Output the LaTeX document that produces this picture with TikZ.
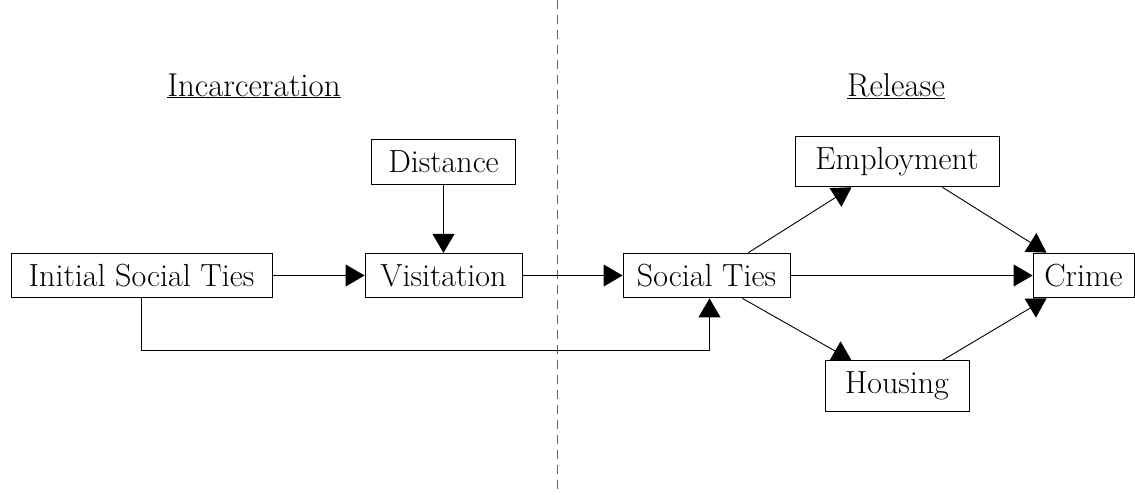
\documentclass[tikz,border=0pt]{standalone}
\usetikzlibrary{arrows.meta}
\begin{document}
\begin{tikzpicture}[x=1pt,y=-1pt,
  box/.style={draw,line width=0.9pt,font=\fontsize{32}{38}\selectfont,inner xsep=8pt,inner ysep=11pt,align=center},
  lbl/.style={font=\fontsize{33}{40}\selectfont,anchor=base},
  arr/.style={line width=0.9pt,-{Triangle[length=19pt,width=22pt]}},
  divider/.style={gray!80!black,line width=0.9pt,dash pattern=on 9pt off 6pt}]
\useasboundingbox (0,0) rectangle (1135,495);
\draw[divider] (557,0) coordinate (dtop) -- (557,495) coordinate (dbot);
\node[lbl] (inc) at (254,96) {\underline{Incarceration}};
\node[lbl] (rel) at (896,96) {\underline{Release}};
\node[box,minimum width=261pt] (ist) at (141.5,275.5) {Initial Social Ties};
\node[box,minimum width=157pt] (vis) at (443.5,275.5) {Visitation};
\node[box,minimum width=144pt] (dis) at (443.5,162) {Distance};
\node[box,minimum width=167pt] (st) at (706.5,275.5) {Social Ties};
\node[box,minimum width=204pt] (emp) at (897,161.5) {Employment};
\node[box,minimum width=144pt] (hou) at (897,386) {Housing};
\node[box,minimum width=101pt] (cri) at (1083.5,275.5) {Crime};
\draw[arr] (ist) -- (vis);
\draw[arr] (dis) -- (vis);
\draw[arr] (vis) -- (st);
\draw[arr] (ist.south) -- ++(0,52) -| ([xshift=3pt]st.south);
\draw[arr] ([xshift=-42pt]st.north east) -- ([xshift=57pt]emp.south west);
\draw[arr] ([xshift=-48pt]st.south east) -- ([xshift=27pt]hou.north west);
\draw[arr] (st) -- (cri);
\draw[arr] ([xshift=-57pt]emp.south east) -- ([xshift=14pt]cri.north west);
\draw[arr] ([xshift=-27pt]hou.north east) -- ([xshift=14pt]cri.south west);
\end{tikzpicture}
\end{document}
